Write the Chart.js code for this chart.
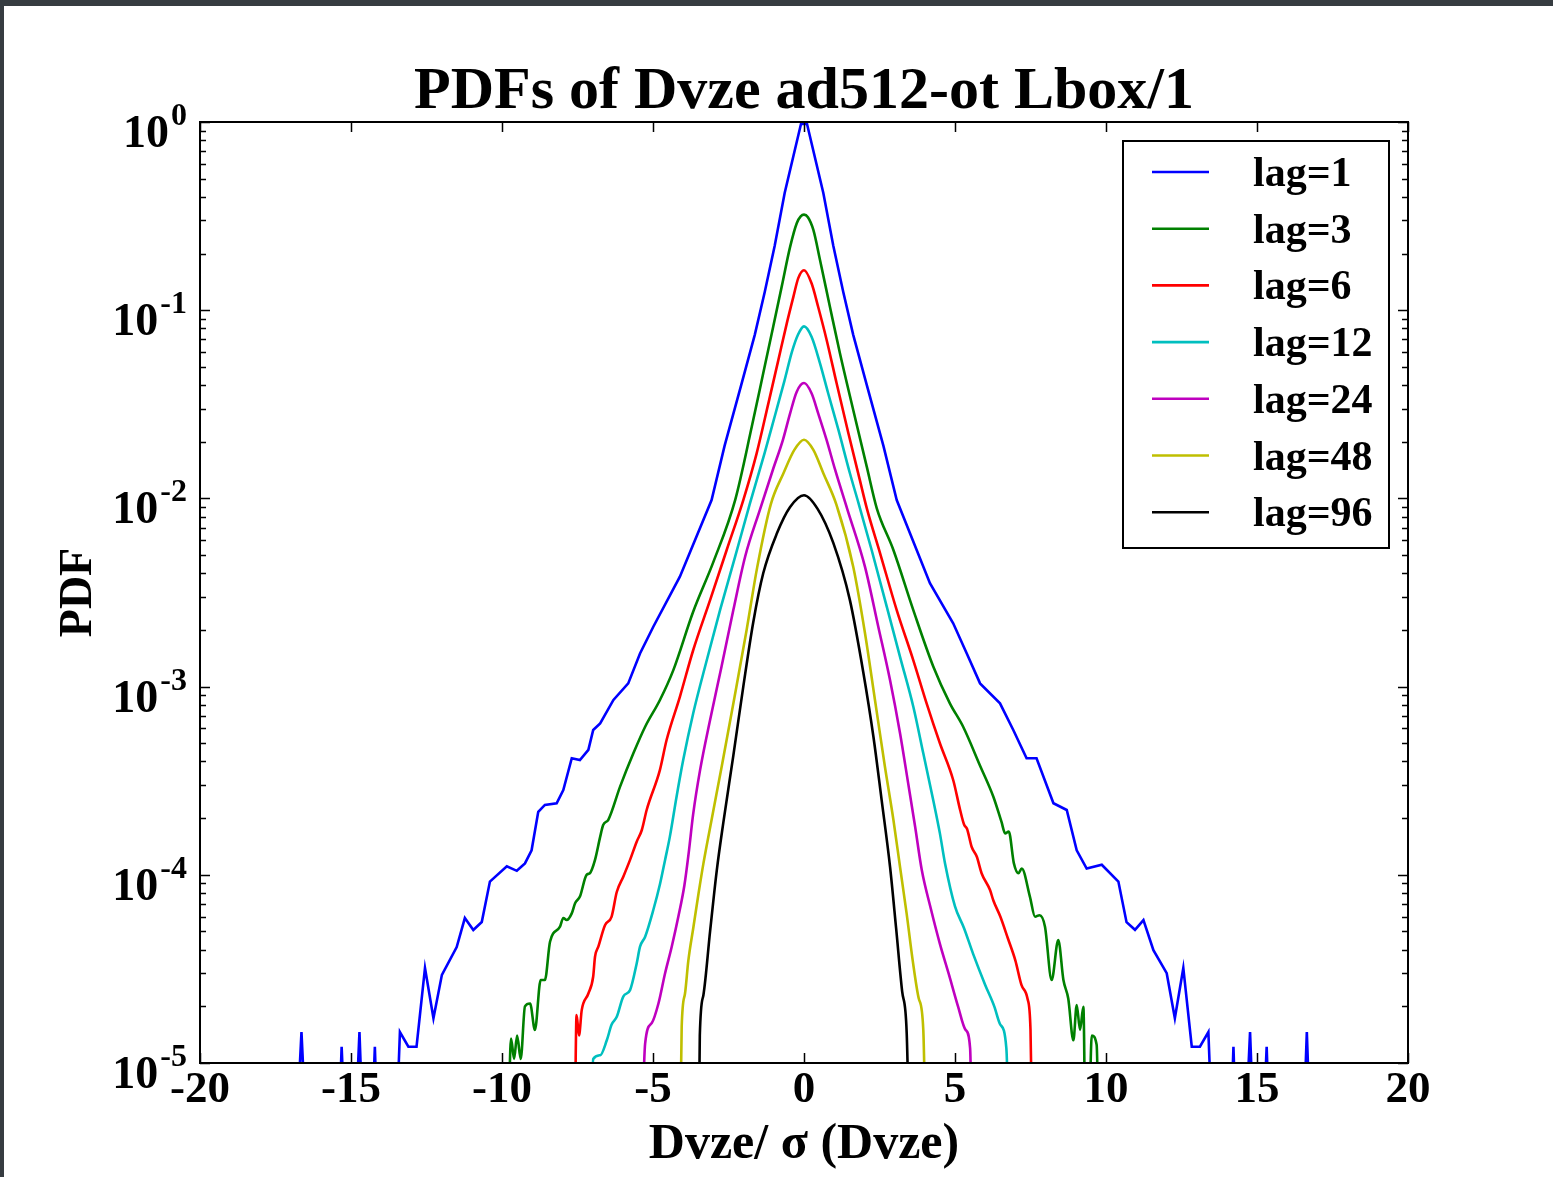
<!DOCTYPE html>
<html>
<head>
<meta charset="utf-8">
<title>PDFs of Dvze ad512-ot Lbox/1</title>
<script src="https://cdn.jsdelivr.net/npm/chart.js@4.4.1/dist/chart.umd.min.js"></script>
<style>
  html, body { margin: 0; padding: 0; background: #363c41; }
  body { width: 1553px; height: 1177px; overflow: hidden; position: relative; }
  #wrap { position: absolute; left: 4px; top: 6px; width: 1549px; height: 1171px; background: #fff; }
</style>
</head>
<body>
<div id="wrap"><canvas id="pdfChart" width="1549" height="1171"></canvas></div>
<script>
// Normalised increment PDFs, one curve per lag.
// Empty bins are stored as 1e-6, below the 1e-5 floor of the axis.
const lag1X = [-17.0, -16.64, -16.3, -15.55, -15.31, -15.03, -14.72, -14.46, -14.21, -14.0, -13.65, -13.38, -13.10, -12.83, -12.55, -12.27, -11.99, -11.50, -11.23, -10.95, -10.67, -10.40, -9.84, -9.51, -9.24, -9.02, -8.80, -8.58, -8.19, -7.97, -7.69, -7.42, -7.14, -6.98, -6.75, -6.31, -5.82, -5.43, -4.99, -4.11, -3.06, -2.63, -2.08, -1.63, -1.30, -0.97, -0.64, -0.10, 0.10, 0.64, 0.97, 1.30, 1.63, 2.08, 2.63, 3.07, 4.17, 4.94, 5.39, 5.83, 6.49, 6.93, 7.37, 7.70, 8.26, 8.70, 9.03, 9.36, 9.86, 10.41, 10.68, 10.96, 11.24, 11.57, 12.01, 12.28, 12.56, 12.84, 13.11, 13.39, 13.67, 14.0, 14.22, 14.44, 14.77, 15.04, 15.32, 15.55, 16.4, 16.65, 16.9];
const lag1Y = [1e-6, 1.46e-5, 1e-6, 1e-6, 1.22e-5, 1e-6, 1.46e-5, 1e-6, 1.22e-5, 1e-6, 1e-6, 1.46e-5, 1.22e-5, 1.22e-5, 3.2e-5, 1.73e-5, 2.94e-5, 4.13e-5, 5.89e-5, 5.09e-5, 5.61e-5, 9.2e-5, 1.11e-4, 1.05e-4, 1.15e-4, 1.35e-4, 2.16e-4, 2.35e-4, 2.40e-4, 2.82e-4, 4.16e-4, 4.07e-4, 4.61e-4, 5.88e-4, 6.38e-4, 8.49e-4, 1.04e-3, 1.50e-3, 2.08e-3, 3.84e-3, 9.8e-3, 0.019, 0.040, 0.074, 0.125, 0.22, 0.42, 0.975, 0.975, 0.42, 0.22, 0.125, 0.074, 0.040, 0.019, 9.8e-3, 3.54e-3, 2.17e-3, 1.50e-3, 1.04e-3, 8.15e-4, 5.88e-4, 4.16e-4, 4.16e-4, 2.40e-4, 2.21e-4, 1.35e-4, 1.08e-4, 1.13e-4, 9.2e-5, 5.6e-5, 5.1e-5, 5.75e-5, 3.98e-5, 3.0e-5, 1.73e-5, 3.2e-5, 1.22e-5, 1.22e-5, 1.46e-5, 1e-6, 1e-6, 1.22e-5, 1e-6, 1.46e-5, 1e-6, 1.22e-5, 1e-6, 1e-6, 1.46e-5, 1e-6];

const lag3X = [-9.85, -9.70, -9.60, -9.50, -9.38, -9.24, -9.07, -8.91, -8.72, -8.58, -8.41, -8.08, -7.97, -7.86, -7.69, -7.58, -7.42, -7.20, -7.09, -6.92, -6.75, -6.65, -6.48, -6.09, -5.65, -5.26, -4.77, -4.33, -3.67, -3.00, -2.28, -1.73, -1.35, -1.02, -0.74, -0.46, -0.24, -0.11, 0, 0.13, 0.31, 0.53, 0.86, 1.19, 1.63, 2.08, 2.41, 2.96, 3.62, 4.28, 4.83, 5.27, 5.83, 6.27, 6.54, 6.66, 6.78, 6.95, 7.10, 7.21, 7.48, 7.65, 7.80, 7.98, 8.20, 8.42, 8.59, 8.75, 8.92, 9.03, 9.14, 9.25, 9.36, 9.53, 9.69, 9.80];
const lag3Y = [1e-6, 1.35e-5, 1.05e-5, 1.4e-5, 1.05e-5, 2.0e-5, 2.07e-5, 1.5e-5, 2.76e-5, 2.76e-5, 4.41e-5, 5.3e-5, 5.9e-5, 5.75e-5, 6.24e-5, 7.06e-5, 7.66e-5, 1.0e-4, 1.02e-4, 1.2e-4, 1.59e-4, 1.84e-4, 1.96e-4, 2.94e-4, 4.42e-4, 6.12e-4, 8.49e-4, 1.22e-3, 2.5e-3, 4.6e-3, 9.8e-3, 0.024, 0.0462, 0.0817, 0.133, 0.217, 0.29, 0.315, 0.322, 0.312, 0.267, 0.185, 0.104, 0.059, 0.0295, 0.0147, 8.86e-3, 5.32e-3, 2.55e-3, 1.28e-3, 8.15e-4, 6.12e-4, 3.8e-4, 2.6e-4, 1.91e-4, 1.66e-4, 1.7e-4, 1.15e-4, 1.02e-4, 1.08e-4, 7.66e-5, 5.99e-5, 6.1e-5, 5.3e-5, 2.76e-5, 4.5e-5, 2.76e-5, 2.2e-5, 1.32e-5, 2.03e-5, 1.5e-5, 1.99e-5, 1e-6, 1.4e-5, 1.25e-5, 1e-6];

const lag6X = [-7.62, -7.53, -7.45, -7.36, -7.14, -6.98, -6.92, -6.81, -6.59, -6.37, -6.20, -5.98, -5.76, -5.54, -5.37, -5.21, -4.77, -4.55, -4.11, -3.67, -3.11, -2.56, -2.01, -1.57, -1.18, -0.85, -0.57, -0.35, -0.19, 0, 0.25, 0.47, 0.75, 1.08, 1.47, 1.85, 2.08, 2.52, 3.07, 3.62, 4.06, 4.50, 4.94, 5.17, 5.30, 5.40, 5.55, 5.72, 5.88, 6.16, 6.27, 6.50, 6.75, 7.00, 7.20, 7.40, 7.50, 7.62];
const lag6Y = [1e-6, 1.8e-5, 1.4e-5, 1.91e-5, 2.34e-5, 2.88e-5, 3.67e-5, 4.15e-5, 5.4e-5, 6.0e-5, 8.1e-5, 9.8e-5, 1.2e-4, 1.5e-4, 1.73e-4, 2.21e-4, 3.61e-4, 5.2e-4, 8.83e-4, 1.56e-3, 2.88e-3, 5.32e-3, 9.8e-3, 0.0173, 0.032, 0.0543, 0.0851, 0.118, 0.148, 0.163, 0.139, 0.104, 0.0695, 0.0409, 0.0222, 0.0125, 8.86e-3, 5.11e-3, 2.55e-3, 1.38e-3, 8.15e-4, 5.0e-4, 3.19e-4, 2.21e-4, 1.85e-4, 1.75e-4, 1.41e-4, 1.25e-4, 1.02e-4, 8.3e-5, 7.3e-5, 6.0e-5, 4.6e-5, 3.5e-5, 2.6e-5, 2.2e-5, 1.5e-5, 1e-6];

const lag12X = [-7.10, -6.98, -6.75, -6.53, -6.37, -6.20, -5.98, -5.76, -5.54, -5.43, -5.26, -4.99, -4.77, -4.60, -4.44, -4.22, -4.00, -3.67, -3.22, -2.78, -2.28, -1.79, -1.30, -0.95, -0.65, -0.40, -0.20, 0, 0.25, 0.53, 0.80, 1.14, 1.52, 1.80, 2.24, 2.74, 3.18, 3.62, 3.95, 4.28, 4.50, 4.67, 5.00, 5.30, 5.60, 6.00, 6.30, 6.50, 6.70, 6.85];
const lag12Y = [1e-6, 1.05e-5, 1.1e-5, 1.32e-5, 1.6e-5, 1.76e-5, 2.26e-5, 2.44e-5, 3.38e-5, 4.15e-5, 4.69e-5, 6.5e-5, 8.9e-5, 1.2e-4, 1.6e-4, 2.6e-4, 4.07e-4, 7.2e-4, 1.38e-3, 2.55e-3, 4.9e-3, 9.4e-3, 0.0175, 0.028, 0.042, 0.060, 0.074, 0.082, 0.0723, 0.0522, 0.0362, 0.0231, 0.0136, 9.5e-3, 5.32e-3, 2.66e-3, 1.44e-3, 7.82e-4, 4.42e-4, 2.49e-4, 1.66e-4, 1.15e-4, 6.8e-5, 5.2e-5, 3.8e-5, 2.6e-5, 2.0e-5, 1.6e-5, 1.2e-5, 1e-6];

const lag24X = [-5.45, -5.26, -5.04, -4.82, -4.60, -4.38, -4.16, -3.96, -3.82, -3.67, -3.44, -3.11, -2.73, -2.34, -1.95, -1.45, -1.03, -0.70, -0.46, -0.24, 0, 0.25, 0.47, 0.75, 1.03, 1.43, 2.02, 2.46, 2.85, 3.18, 3.45, 3.68, 3.90, 4.20, 4.50, 4.80, 5.10, 5.35, 5.50, 5.60];
const lag24Y = [1e-6, 1.27e-5, 1.63e-5, 2.07e-5, 3.0e-5, 4.15e-5, 6.0e-5, 8.8e-5, 1.3e-4, 2.1e-4, 3.61e-4, 6.65e-4, 1.28e-3, 2.55e-3, 4.9e-3, 8.8e-3, 0.0142, 0.0204, 0.0283, 0.0369, 0.041, 0.0362, 0.0283, 0.0204, 0.0142, 8.8e-3, 4.33e-3, 2.08e-3, 1.08e-3, 5.65e-4, 3.06e-4, 1.80e-4, 1.06e-4, 6.6e-5, 4.3e-5, 2.95e-5, 2.0e-5, 1.5e-5, 1.2e-5, 1e-6];

const lag48X = [-4.15, -4.05, -3.94, -3.83, -3.66, -3.49, -3.33, -3.05, -2.72, -2.30, -1.90, -1.55, -1.10, -0.68, -0.32, 0, 0.31, 0.64, 1.07, 1.63, 2.02, 2.35, 2.68, 2.96, 3.18, 3.40, 3.60, 3.80, 3.95, 4.08];
const lag48Y = [1e-6, 1.56e-5, 2.34e-5, 3.5e-5, 5.3e-5, 8.0e-5, 1.15e-4, 2.0e-4, 3.8e-4, 8.8e-4, 2.0e-3, 4.3e-3, 9.3e-3, 0.0136, 0.0181, 0.0205, 0.0181, 0.0136, 9.3e-3, 4.33e-3, 1.92e-3, 8.49e-4, 3.75e-4, 1.96e-4, 1.10e-4, 6.2e-5, 3.5e-5, 2.2e-5, 1.5e-5, 1e-6];

const lag96X = [-3.52, -3.45, -3.33, -3.11, -2.89, -2.67, -2.34, -2.01, -1.68, -1.35, -0.90, -0.46, 0, 0.45, 0.97, 1.52, 1.96, 2.30, 2.57, 2.85, 3.05, 3.25, 3.40, 3.55];
const lag96Y = [1e-6, 1.4e-5, 2.3e-5, 5.0e-5, 1.05e-4, 1.9e-4, 4.3e-4, 1.0e-3, 2.2e-3, 4.0e-3, 6.5e-3, 9.0e-3, 0.0104, 8.8e-3, 5.8e-3, 2.88e-3, 1.2e-3, 5.4e-4, 2.5e-4, 1.10e-4, 5.2e-5, 2.4e-5, 1.45e-5, 1e-6];

const seriesLabels = ['lag=1', 'lag=3', 'lag=6', 'lag=12', 'lag=24', 'lag=48', 'lag=96'];
const seriesColors = ['#0000ff', '#008000', '#ff0000', '#00bfbf', '#bf00bf', '#bfbf00', '#000000'];
const seriesX = [lag1X, lag3X, lag6X, lag12X, lag24X, lag48X, lag96X];
const seriesY = [lag1Y, lag3Y, lag6Y, lag12Y, lag24Y, lag48Y, lag96Y];

const xTickValues = [-20, -15, -10, -5, 0, 5, 10, 15, 20];
const yDecadeExps = [0, -1, -2, -3, -4, -5];

const FONT = '"Liberation Serif", "DejaVu Serif", serif';

function toPoints(xs, ys) {
  const n = Math.min(xs.length, ys.length);
  const pts = [];
  for (let i = 0; i < n; i++) pts.push({ x: xs[i], y: ys[i] });
  return pts;
}

// matplotlib-style frame with inward ticks on all four sides
const frameTicks = {
  id: 'frameTicks',
  afterDatasetsDraw(chart) {
    const { ctx, chartArea: a, scales: { x, y } } = chart;
    ctx.save();
    ctx.strokeStyle = '#000';
    ctx.lineWidth = 1.5;
    ctx.beginPath();
    xTickValues.forEach((v) => {
      const px = Math.round(x.getPixelForValue(v)) + 0.5;
      ctx.moveTo(px, a.bottom); ctx.lineTo(px, a.bottom - 10);
      ctx.moveTo(px, a.top); ctx.lineTo(px, a.top + 10);
    });
    yDecadeExps.forEach((k) => {
      const base = Math.pow(10, k);
      for (let m = 1; m <= 9; m++) {
        const v = base * m;
        if (v > 1.0001) continue;
        const py = Math.round(y.getPixelForValue(v)) + 0.5;
        const len = m === 1 ? 10 : 6;
        ctx.moveTo(a.left, py); ctx.lineTo(a.left + len, py);
        ctx.moveTo(a.right, py); ctx.lineTo(a.right - len, py);
      }
    });
    ctx.stroke();
    ctx.lineWidth = 2;
    ctx.strokeRect(a.left, a.top, a.right - a.left, a.bottom - a.top);
    ctx.restore();
  },
  afterDraw(chart) {
    // decade labels written as 10 with a raised exponent
    const { ctx, chartArea: a, scales: { y } } = chart;
    ctx.save();
    ctx.fillStyle = '#000';
    ctx.textAlign = 'left';
    ctx.textBaseline = 'alphabetic';
    yDecadeExps.forEach((k) => {
      const py = y.getPixelForValue(Math.pow(10, k));
      const exp = String(k);
      ctx.font = 'bold 32px ' + FONT;
      const we = ctx.measureText(exp).width;
      ctx.font = 'bold 46px ' + FONT;
      const wb = ctx.measureText('10').width;
      const right = a.left - 13;
      ctx.fillText('10', right - we - 2 - wb, py + 25);
      ctx.font = 'bold 32px ' + FONT;
      ctx.fillText(exp, right - we, py + 3);
    });
    ctx.restore();
  }
};

// boxed legend in the upper right corner of the plot
const boxedLegend = {
  id: 'boxedLegend',
  afterDraw(chart) {
    const { ctx, chartArea: a } = chart;
    const w = 266, h = 407;
    const left = a.right - 19 - w;
    const top = a.top + 19;
    ctx.save();
    ctx.fillStyle = '#fff';
    ctx.fillRect(left, top, w, h);
    ctx.strokeStyle = '#000';
    ctx.lineWidth = 2;
    ctx.strokeRect(left, top, w, h);
    chart.data.datasets.forEach((ds, i) => {
      const cy = top + 31 + i * 56.7;
      ctx.strokeStyle = ds.borderColor;
      ctx.lineWidth = 2.6;
      ctx.beginPath();
      ctx.moveTo(left + 29, cy);
      ctx.lineTo(left + 86, cy);
      ctx.stroke();
      ctx.fillStyle = '#000';
      ctx.font = 'bold 42px ' + FONT;
      ctx.textBaseline = 'alphabetic';
      ctx.fillText(ds.label, left + 130, cy + 14);
    });
    ctx.restore();
  }
};

Chart.defaults.font.family = FONT;
Chart.defaults.font.weight = 'bold';
Chart.defaults.color = '#000';

// lag=1 keeps straight segments (sharp cusp and spiky tails), the rest are smoothed
const datasets = seriesLabels.map((label, i) => ({
  label,
  data: toPoints(seriesX[i], seriesY[i]),
  borderColor: seriesColors[i],
  backgroundColor: seriesColors[i],
  borderWidth: 2.6,
  pointRadius: 0,
  tension: 0,
  cubicInterpolationMode: i === 0 ? 'default' : 'monotone',
  fill: false
}));

new Chart(document.getElementById('pdfChart'), {
  type: 'line',
  data: { datasets },
  plugins: [frameTicks, boxedLegend],
  options: {
    responsive: false,
    animation: false,
    events: [],
    layout: { padding: { left: 0, right: 145, top: 0, bottom: 0 } },
    plugins: {
      legend: { display: false },
      tooltip: { enabled: false },
      title: {
        display: true,
        fullSize: false,
        text: 'PDFs of Dvze ad512-ot Lbox/1',
        font: { size: 60, weight: 'bold', lineHeight: 0.95 },
        padding: { top: 58, bottom: 1 },
        color: '#000'
      }
    },
    scales: {
      x: {
        type: 'linear',
        min: -20,
        max: 20,
        grid: { display: false, drawTicks: false },
        border: { display: false },
        ticks: { stepSize: 5, padding: 0, font: { size: 45, weight: 'bold' }, color: '#000', maxRotation: 0 },
        title: {
          display: true,
          text: 'Dvze/ σ (Dvze)',
          font: { size: 50, weight: 'bold' },
          padding: { top: 0, bottom: 2 },
          color: '#000'
        },
        afterFit(scale) { scale.height = 114; }
      },
      y: {
        type: 'logarithmic',
        min: 1e-5,
        max: 1,
        grid: { display: false, drawTicks: false },
        border: { display: false },
        ticks: { display: false },
        title: {
          display: true,
          text: 'PDF',
          font: { size: 46, weight: 'bold' },
          padding: { top: 48, bottom: 0 },
          color: '#000'
        },
        afterFit(scale) { scale.width = 196; }
      }
    }
  }
});
</script>
</body>
</html>
